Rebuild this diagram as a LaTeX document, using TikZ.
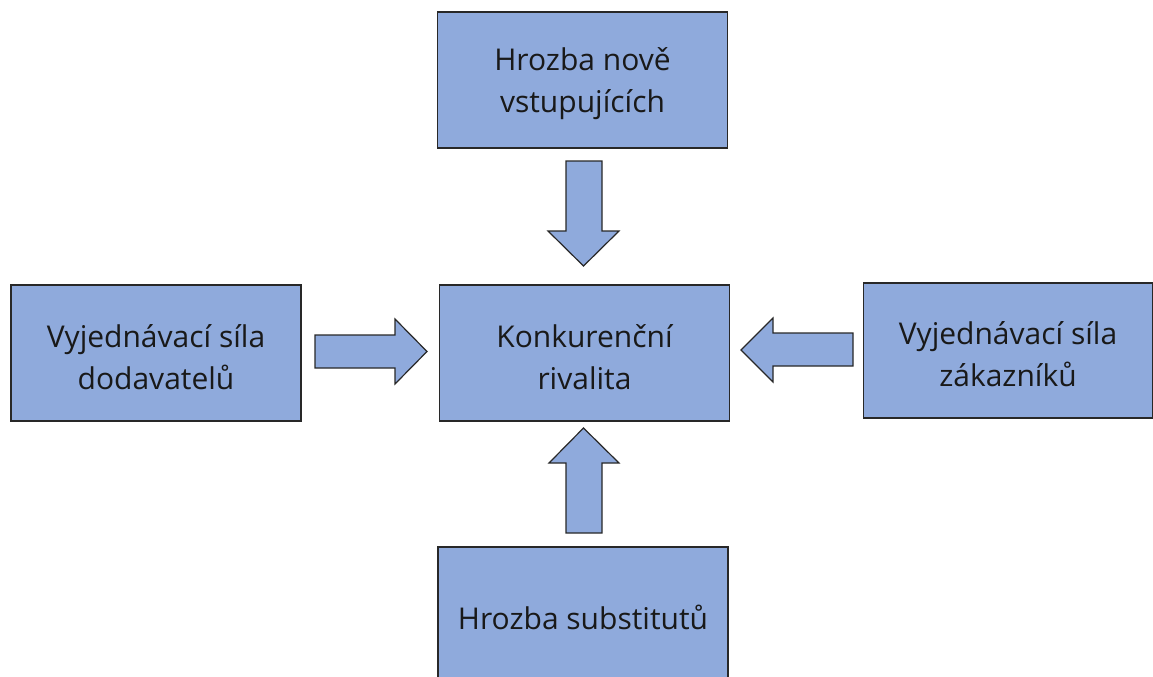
\documentclass[tikz,border=0pt]{standalone}
\usepackage{fontspec}
\setmainfont{Open Sans}
\definecolor{boxfill}{RGB}{143,170,220}
\definecolor{boxline}{RGB}{40,40,40}
\definecolor{txt}{RGB}{25,25,25}
\begin{document}
\begin{tikzpicture}[x=0.75pt,y=-0.75pt,
  force/.style={draw=boxline,fill=boxfill,line width=0.9pt,inner sep=0pt,
    minimum width=290*0.75pt,minimum height=136*0.75pt},
  label/.style={text=txt,align=center,inner sep=0pt,
    font=\fontsize{22.5pt}{31.5pt}\selectfont},
  blockarrow/.style={draw=boxline,fill=boxfill,line width=0.9pt,line join=miter}]
\useasboundingbox (0,0) rectangle (1153,676);
\begin{scope}
\clip (0,0) rectangle (1153,676);
\node[force] (top)    at (582.5,80)  {};
\node[force] (left)   at (156,353)   {};
\node[force] (center) at (584.5,353) {};
\node[force,minimum width=289*0.75pt,minimum height=135*0.75pt] (right) at (1008,350.5) {};
\node[force] (bottom) at (583,615)   {};
\end{scope}
% box captions, set a little below each box centre
\node[label] (topt)    at ([yshift=-4*0.75pt]top.center)    {Hrozba nově\\vstupujících};
\node[label] (leftt)   at ([yshift=-4*0.75pt]left.center)   {Vyjednávací síla\\dodavatelů};
\node[label] (centert) at ([yshift=-4*0.75pt]center.center) {Konkurenční\\rivalita};
\node[label] (rightt)  at ([yshift=-4*0.75pt]right.center)  {Vyjednávací síla\\zákazníků};
\node[label] (bottomt) at ([yshift=-2*0.75pt]bottom.center) {Hrozba substitutů};
% block arrows pointing at the central box
\draw[blockarrow] (566,161) -- (602,161) -- (602,231) -- (619,231) -- (583.5,266)
  -- (548,231) -- (566,231) -- cycle;
\draw[blockarrow] (315,335) -- (395,335) -- (395,319) -- (427,351.5) -- (395,384)
  -- (395,368) -- (315,368) -- cycle;
\draw[blockarrow] (853,333) -- (773,333) -- (773,318) -- (741,350) -- (773,382)
  -- (773,366) -- (853,366) -- cycle;
\draw[blockarrow] (566,533) -- (602,533) -- (602,463) -- (619,463) -- (583.5,428)
  -- (549,463) -- (566,463) -- cycle;
\end{tikzpicture}
\end{document}
